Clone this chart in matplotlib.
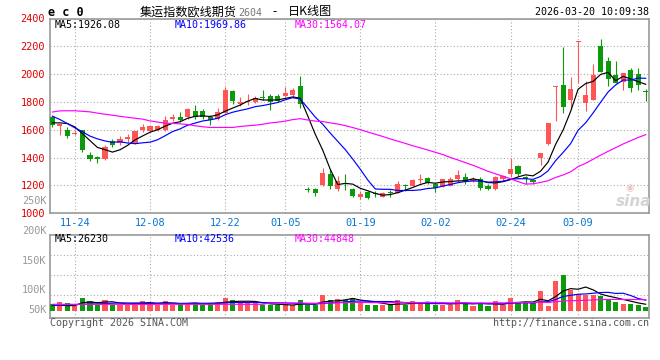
import numpy as np
import matplotlib
matplotlib.use("Agg")
import matplotlib.pyplot as plt

# ---------------- data ----------------
opens = [1690, 1630, 1602, 1567, 1598, 1421, 1405, 1393, 1519, 1507,
         1533, 1507, 1602, 1593, 1598, 1602, 1681, 1693, 1690, 1738,
         1738, 1695, 1681, 1724, 1876, 1783, 1800, 1800, 1838, 1840,
         1843, 1845, 1850, 1912, 1174, 1174, 1200, 1283, 1175, 1219,
         1176, 1117, 1155, 1148, 1119, 1152, 1148, 1205, 1195, 1238,
         1257, 1212, 1190, 1195, 1250, 1264, 1231, 1250, 1193, 1174,
         1243, 1279, 1343, 1260, 1238, 1395, 1495, 1907, 1921, 1817,
         2234, 1795, 1817, 2200, 2093, 1993, 1945, 2029, 2000, 1874]
highs = [1700, 1645, 1619, 1600, 1602, 1438, 1414, 1493, 1531, 1552,
         1567, 1595, 1645, 1633, 1633, 1702, 1712, 1729, 1755, 1781,
         1750, 1705, 1755, 1910, 1883, 1833, 1855, 1840, 1883, 1857,
         1857, 1905, 1898, 1988, 1188, 1183, 1326, 1319, 1268, 1279,
         1181, 1160, 1160, 1162, 1155, 1171, 1231, 1207, 1248, 1279,
         1262, 1217, 1250, 1260, 1310, 1293, 1262, 1260, 1207, 1271,
         1276, 1400, 1345, 1267, 1245, 1436, 1652, 1912, 2195, 1976,
         2240, 1950, 2074, 2250, 2121, 2093, 2005, 2045, 2043, 1895]
lows = [1618, 1565, 1540, 1564, 1440, 1376, 1364, 1381, 1476, 1490,
        1512, 1500, 1583, 1583, 1590, 1593, 1662, 1657, 1681, 1676,
        1678, 1633, 1671, 1719, 1783, 1771, 1776, 1790, 1817, 1743,
        1800, 1838, 1829, 1760, 1155, 1124, 1193, 1174, 1160, 1171,
        1119, 1105, 1105, 1117, 1114, 1119, 1143, 1157, 1193, 1219,
        1207, 1152, 1188, 1193, 1228, 1214, 1224, 1171, 1164, 1167,
        1233, 1262, 1267, 1214, 1214, 1345, 1493, 1660, 1719, 1752,
        1933, 1738, 1817, 2017, 1917, 1933, 1886, 1871, 1886, 1810]
closes = [1638, 1640, 1555, 1578, 1452, 1388, 1393, 1476, 1490, 1536,
          1545, 1590, 1617, 1626, 1624, 1674, 1695, 1671, 1750, 1693,
          1693, 1671, 1729, 1883, 1805, 1802, 1810, 1829, 1826, 1802,
          1807, 1864, 1883, 1782, 1164, 1148, 1290, 1195, 1235, 1207,
          1121, 1140, 1107, 1138, 1145, 1145, 1207, 1198, 1236, 1250,
          1219, 1179, 1243, 1250, 1274, 1226, 1248, 1181, 1174, 1264,
          1269, 1321, 1279, 1250, 1226, 1436, 1650, 1912, 1767, 1893,
          2238, 1850, 1993, 2017, 1967, 1938, 2005, 1902, 1919, 1871]
volumes = [24700, 33800, 29900, 18200, 49400, 37700, 22100, 41600, 23400, 23400,
           23400, 29900, 37700, 29900, 22100, 37700, 22100, 29900, 29900, 29900,
           22100, 29900, 33800, 49400, 41600, 29900, 29900, 29900, 22100, 22100,
           22100, 22100, 22100, 41600, 22100, 22100, 61100, 41600, 45500, 41600,
           49400, 29900, 22100, 22100, 22100, 22100, 41600, 22100, 37700, 29900,
           33800, 22100, 22100, 22100, 41600, 29900, 18200, 29900, 18200, 37700,
           22100, 49400, 33800, 29900, 33800, 76700, 18200, 115700, 139100, 80600,
           65000, 61100, 61100, 57200, 41600, 33800, 26000, 27300, 23400, 15600]

# moving-average values before enough bars exist
ma5_head = [1650, 1650, 1645, 1620]
ma10_head = [1698, 1674, 1645, 1614, 1586, 1555, 1535, 1520, 1510]
ma30_head = [1728, 1736, 1737, 1737, 1733, 1729, 1720, 1712, 1705, 1697,
             1690, 1683, 1677, 1664, 1656, 1648, 1646, 1643, 1638, 1629,
             1622, 1617, 1617, 1617, 1617, 1624, 1629, 1633, 1640]
vma5_head = [21000, 21000, 20000, 20000]
vma10_head = [21000, 22000, 23000, 24000, 25000, 26000, 27000, 28000, 29000]
vma30_head = [25000] * 29

tick_labels = ["11-24", "12-08", "12-22", "01-05", "01-19", "02-02", "02-24", "03-09"]
tick_index = [3, 13, 23, 31, 41, 51, 61, 70]
price_ticks = [1000, 1200, 1400, 1600, 1800, 2000, 2200, 2400]

# ---------------- style ----------------
plt.rcParams['font.family'] = ['DejaVu Sans Mono']
RED = '#ff5555'
GREEN = '#0a9a0a'
GRID = '#aaaaaa'
FRAME = '#9a9a9a'
W, H = 660, 360

fig = plt.figure(figsize=(6.6, 3.6), dpi=100)
fig.patch.set_facecolor('white')


def rect(x0, y0, x1, y1):
    return [x0 / W, 1 - y1 / H, (x1 - x0) / W, (y1 - y0) / H]


ax = fig.add_axes(rect(50, 18.5, 649.3, 213.3))
axv = fig.add_axes(rect(50, 234.7, 649.3, 318.3))

o = np.array(opens, float)
h = np.array(highs, float)
l = np.array(lows, float)
c = np.array(closes, float)
v = np.array(volumes, float)
n = len(c)
x = np.arange(n)
up = c >= o
colors = np.where(up, RED, GREEN)


def moving(vals, k, head):
    vals = np.asarray(vals, float)
    body = np.convolve(vals, np.ones(k) / k, mode='valid')
    return np.concatenate([np.asarray(head, float), body])


# ---------------- price panel ----------------
ax.vlines(x, l, h, colors=colors, lw=0.8, zorder=3)
bottom = np.minimum(o, c)
height = np.maximum(np.abs(c - o), 6)
ax.bar(x, height, bottom=bottom, width=0.68, color=colors, linewidth=0, zorder=4)

ax.plot(x, moving(c, 5, ma5_head), color='black', lw=0.85, zorder=5)
ax.plot(x, moving(c, 10, ma10_head), color='#0000ff', lw=0.85, zorder=5)
ax.plot(x, moving(c, 30, ma30_head), color='#ff00ff', lw=0.85, zorder=5)

ax.set_xlim(-0.32, 79.48)
ax.set_ylim(1000, 2400)
ax.set_yticks(price_ticks)
ax.set_xticks(tick_index)
ax.set_xticklabels(tick_labels)
ax.tick_params(axis='y', length=0, pad=3.5, labelcolor='#e00000', labelsize=7.4)
ax.tick_params(axis='x', length=0, pad=3.5, labelcolor='#0a74d0', labelsize=7.4)
ax.grid(True, ls=(0, (1, 2)), color=GRID, lw=0.8, zorder=0)
for s in ax.spines.values():
    s.set_color(FRAME)
    s.set_linewidth(1.2)

# ---------------- volume panel ----------------
axv.bar(x, v, width=0.68, color=colors, linewidth=0, zorder=3)
axv.plot(x, moving(v, 5, vma5_head), color='black', lw=0.85, zorder=4)
axv.plot(x, moving(v, 10, vma10_head), color='#0000ff', lw=0.85, zorder=4)
axv.plot(x, moving(v, 30, vma30_head), color='#ff00ff', lw=0.85, zorder=4)
axv.set_xlim(-0.32, 79.48)
axv.set_ylim(-29600, 296400)
axv.set_xticks(tick_index)
axv.set_xticklabels([])
axv.set_yticks([])
axv.tick_params(axis='x', length=0)
axv.grid(True, axis='x', ls=(0, (1, 2)), color=GRID, lw=0.8, zorder=0)
for f in (0.275, 0.514, 0.757):
    axv.plot([0, 1], [f, f], transform=axv.transAxes, ls=(0, (1, 2)),
             color=GRID, lw=0.8, zorder=0)
for s in axv.spines.values():
    s.set_color(FRAME)
    s.set_linewidth(1.2)

# ---------------- texts ----------------
def ftext(px_x, px_y, s, **kw):
    fig.text(px_x / W, 1 - px_y / H, s, **kw)


cjk = ['Noto Sans CJK SC', 'DejaVu Sans']
ftext(48, 12, "e c 0", ha='left', va='center', fontsize=8.5, fontweight='bold')
ftext(140, 12, "集运指数欧线期货", ha='left', va='center', fontsize=8.7, family=cjk)
ftext(238, 12.5, "2604", ha='left', va='center', fontsize=7.2, color='#777777')
ftext(272, 12, "-", ha='left', va='center', fontsize=8.7, family=cjk)
ftext(288, 12, "日K线图", ha='left', va='center', fontsize=8.7, family=cjk)
ftext(649, 12, "2026-03-20 10:09:38", ha='right', va='center', fontsize=7.2)

ftext(55, 24.5, "MA5:1926.08", ha='left', va='center', fontsize=7.2, color='black')
ftext(175, 24.5, "MA10:1969.86", ha='left', va='center', fontsize=7.2, color='#0000ff')
ftext(295, 24.5, "MA30:1564.07", ha='left', va='center', fontsize=7.2, color='#ff00ff')

ftext(55, 238.5, "MA5:26230", ha='left', va='center', fontsize=7.2, color='black')
ftext(175, 238.5, "MA10:42536", ha='left', va='center', fontsize=7.2, color='#0000ff')
ftext(295, 238.5, "MA30:44848", ha='left', va='center', fontsize=7.2, color='#ff00ff')

ftext(46.5, 201, "250K", ha='right', va='center', fontsize=7.4, color='#999999')
for lab, yy in (("200K", 231), ("150K", 260.7), ("100K", 290.3), ("50K", 310)):
    ftext(46.5, yy, lab, ha='right', va='center', fontsize=7.4, color='#999999')

ftext(50, 323.5, "Copyright 2026 SINA.COM", ha='left', va='center', fontsize=7.2, color='#555555')
ftext(649, 323.5, "http://finance.sina.com.cn", ha='right', va='center', fontsize=7.2, color='#555555')

# watermark
ftext(634, 201, "sina", ha='center', va='center', fontsize=11, fontstyle='italic',
      fontweight='bold', color='#d4d4d4', family=['DejaVu Sans'])
ftext(630, 188.5, "◉", ha='center', va='center', fontsize=7, color='#ecc8c8',
      family=['DejaVu Sans'])

fig.savefig("out.png", dpi=100)
